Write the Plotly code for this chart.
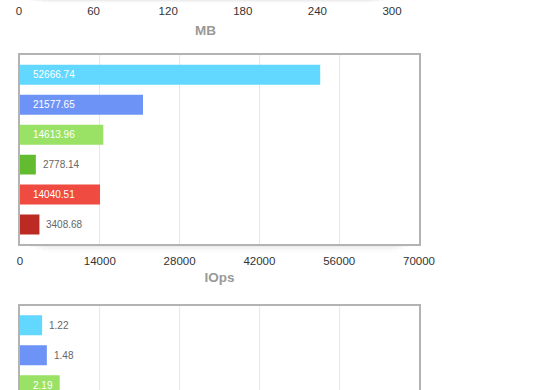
import plotly.graph_objects as go

# ---- data ----
systems = ["System 1", "System 2", "System 3", "System 4", "System 5", "System 6"]
bar_colors = ["#62d7ff", "#6e93f6", "#99e266", "#63bb30", "#f04b41", "#bb2b23"]
iops = [52666.74, 21577.65, 14613.96, 2778.14, 14040.51, 3408.68]
latency_systems = systems[:3]
latency = [1.22, 1.48, 2.19]
mb_ticks = [0, 60, 120, 180, 240, 300]
iops_ticks = [0, 14000, 28000, 42000, 56000, 70000]
lat_max = 22

W, H = 560, 390
FONT = "Liberation Sans, Arial, Helvetica, sans-serif"

def px_x(p):
    return p / W

def px_y(p):
    return 1 - p / H

fig = go.Figure()

# top (MB) chart - only its axis is visible
fig.add_trace(go.Bar(x=[], y=[], orientation="h", xaxis="x", yaxis="y", showlegend=False))

# middle (IOps) chart
fig.add_trace(go.Bar(x=iops, y=systems, orientation="h", xaxis="x2", yaxis="y2",
                     marker=dict(color=bar_colors, line=dict(width=0)),
                     width=0.667, showlegend=False, hoverinfo="x"))

# bottom chart
fig.add_trace(go.Bar(x=latency, y=latency_systems, orientation="h", xaxis="x3", yaxis="y3",
                     marker=dict(color=bar_colors[:3], line=dict(width=0)),
                     width=0.667, showlegend=False, hoverinfo="x"))

plot_px = 399

def labels(values, cats, xref, yref, vmax, fmt):
    out = []
    for v, c in zip(values, cats):
        t = fmt.format(v)
        bar_px = v / vmax * plot_px
        inside = bar_px > len(t) * 5.6 + 14
        out.append(dict(x=0 if inside else v, y=c, xref=xref, yref=yref, text=t,
                        showarrow=False, xanchor="left", yanchor="middle",
                        xshift=11 if inside else 5,
                        font=dict(family=FONT, size=10, color="#ffffff" if inside else "#666666")))
    return out

annotations = labels(iops, systems, "x2", "y2", iops_ticks[-1], "{:.2f}") + \
              labels(latency, latency_systems, "x3", "y3", lat_max, "{:.2f}")

axis_common = dict(showline=True, mirror=True, linecolor="#b3b3b3", linewidth=1.5,
                   zeroline=False, ticks="", fixedrange=True, automargin=False)

shapes = []
# soft shadows under the chart boxes
for i, a in enumerate([0.035, 0.025, 0.015, 0.008]):
    shapes.append(dict(type="rect", xref="paper", yref="paper", layer="below",
                       x0=px_x(30 + i * 6), x1=px_x(409 - i * 6),
                       y0=px_y(245 + 2 * (i + 1)), y1=px_y(245), line=dict(width=0), fillcolor=f"rgba(0,0,0,{a})"))
    shapes.append(dict(type="rect", xref="paper", yref="paper", layer="below",
                       x0=px_x(30 + i * 6), x1=px_x(385 - i * 6),
                       y0=px_y(0.8 * (i + 1)), y1=1, line=dict(width=0), fillcolor=f"rgba(0,0,0,{a})"))

title_font = dict(size=13.5, color="#999999", family=FONT, weight="bold")

fig.update_layout(
    template="none",
    width=W, height=H, margin=dict(l=0, r=0, t=0, b=0, autoexpand=False),
    paper_bgcolor="white", plot_bgcolor="white",
    font=dict(family=FONT, size=11, color="#333333"),
    bargap=0.333,
    xaxis=dict(domain=[px_x(19), px_x(392)], anchor="y", range=[0, 300], tickvals=mb_ticks,
               showgrid=False, showline=False, zeroline=False, ticks="", automargin=False,
               ticklabelstandoff=2,
               tickfont=dict(size=11.5, color="#333333"),
               title=dict(text="MB", font=title_font, standoff=9)),
    yaxis=dict(domain=[0.998, 1], anchor="x", visible=False),
    xaxis2=dict(domain=[px_x(20), px_x(419)], anchor="y2", range=[0, iops_ticks[-1]], tickvals=iops_ticks,
                tickformat="d", showgrid=True, gridcolor="#e8e8e8", gridwidth=1,
                ticklabelstandoff=5,
                tickfont=dict(size=11.5, color="#333333"),
                title=dict(text="IOps", font=title_font, standoff=7),
                **axis_common),
    yaxis2=dict(domain=[px_y(244), px_y(55.3)], anchor="x2", range=[5.65, -0.65],
                showticklabels=False, showgrid=False, **axis_common),
    xaxis3=dict(domain=[px_x(20), px_x(419)], anchor="y3", range=[0, lat_max], dtick=lat_max / 5,
                showticklabels=False,
                showgrid=True, gridcolor="#e8e8e8", gridwidth=1, **axis_common),
    yaxis3=dict(domain=[0, px_y(305.7)], anchor="x3", range=[2.16, -0.65],
                showticklabels=False, showgrid=False, **axis_common),
    annotations=annotations,
    shapes=shapes,
)

fig.write_html("out.html")
